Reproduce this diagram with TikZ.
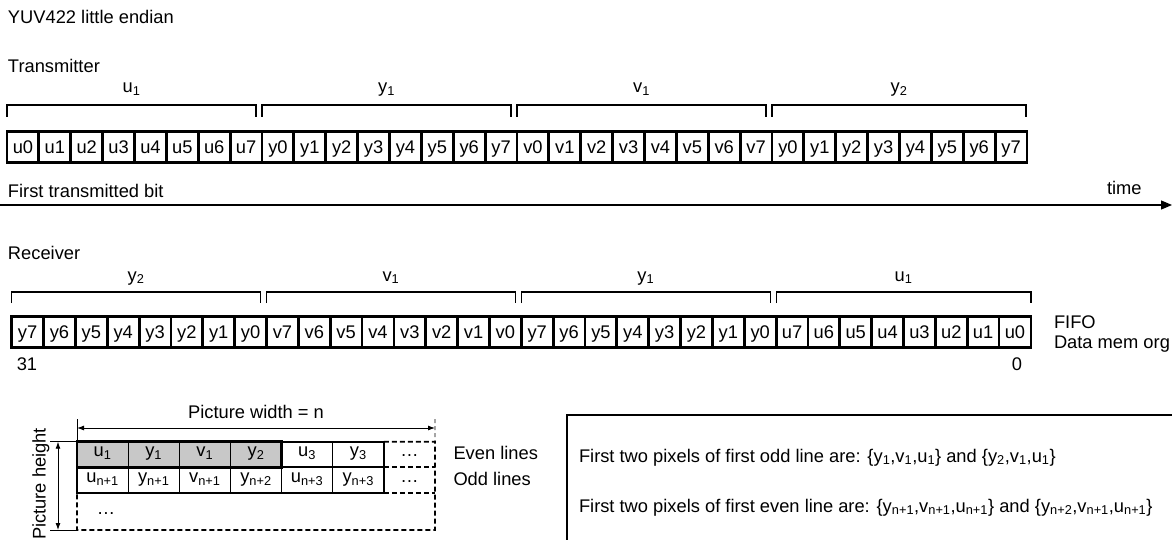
\documentclass[tikz,border=0pt]{standalone}
\usepackage{fontspec}
\setmainfont{Liberation Sans}
\usetikzlibrary{arrows.meta}
\definecolor{shade}{RGB}{200,200,200}
\begin{document}
\begin{tikzpicture}[x=1pt,y=-1pt,
  txt/.style={inner sep=0pt, outer sep=0pt, font=\fontsize{18.3}{21}\selectfont},
  bit/.style={draw, line width=2.8pt, minimum width=31.875pt, minimum height=31pt, inner sep=0pt, outer sep=0pt,
    anchor=north west, font=\fontsize{18.3}{21}\selectfont, text height=13pt, text depth=0pt},
  brk/.style={line width=1.2pt},
  tcell/.style={draw, line width=0.9pt, minimum width=51.14pt, minimum height=25.5pt, inner sep=0pt, outer sep=0pt,
    anchor=north west, font=\fontsize{18.3}{21}\selectfont, text height=10pt, text depth=5pt},
  dcell/.style={minimum width=51.14pt, minimum height=25.5pt, inner sep=0pt, outer sep=0pt,
    anchor=north west, font=\fontsize{18.3}{21}\selectfont, text height=10pt, text depth=5pt},
  dashline/.style={line width=1.6pt, dash pattern=on 5pt off 3pt},
  dim/.style={line width=0.9pt, {Latex[length=7pt,width=5pt]}-{Latex[length=7pt,width=5pt]}},
  thinline/.style={line width=0.9pt},
]
\useasboundingbox (0,0) rectangle (1172,540);

% titles
\node[txt, anchor=base west] (title) at (8,23.3) {YUV422 little endian};
\node[txt, anchor=base west] (trans) at (8,72.7) {Transmitter};

% transmitter brackets
\foreach \k/\ch/\s in {0/u/1,1/y/1,2/v/1,3/y/2}{
  \pgfmathsetmacro\xa{7+255*\k}
  \pgfmathsetmacro\xb{(\k<3) ? (7+255*(\k+1)-6) : 1026}
  \draw[brk] (\xa,117) -- (\xa,105) -- (\xb,105) -- (\xb,117);
  \node[txt, anchor=base] (tl\k) at ({(\xa+\xb)/2},93) {\ch\textsubscript{\s}};
}

% transmitter bits
\foreach \g/\ch in {0/u,1/y,2/v,3/y}{
  \foreach \b in {0,...,7}{
    \pgfmathtruncatemacro\k{8*\g+\b}
    \node[bit] (t\k) at ({7+\k*31.875},131.5) {\ch\b};
  }
}

% time axis
\node[txt, anchor=base west] (ftb) at (8,197.5) {First transmitted bit};
\node[txt, anchor=base west] (time) at (1107,195) {time};
\coordinate (ta) at (0,205);
\coordinate (tb) at (1172,205);
\draw[line width=1.2pt, -{Triangle[length=11pt,width=9pt]}] (ta) -- (tb);

% receiver
\node[txt, anchor=base west] (recv) at (8,259.5) {Receiver};
\foreach \k/\ch/\s in {0/y/2,1/v/1,2/y/1,3/u/1}{
  \pgfmathsetmacro\xa{11.7+254.83*\k}
  \pgfmathsetmacro\xb{(\k<3) ? (11.7+254.83*(\k+1)-6) : 1031}
  \draw[brk] (\xa,303) -- (\xa,292) -- (\xb,292) -- (\xb,303);
  \node[txt, anchor=base] (rl\k) at ({(\xa+\xb)/2},281) {\ch\textsubscript{\s}};
}
\foreach \g/\ch in {0/y,1/v,2/y,3/u}{
  \foreach \b in {0,...,7}{
    \pgfmathtruncatemacro\k{8*\g+\b}
    \pgfmathtruncatemacro\bb{7-\b}
    \node[bit] (r\k) at ({11.7+\k*31.85},316.5) {\ch\bb};
  }
}
\node[txt, anchor=base] (n31) at (27,370) {31};
\node[txt, anchor=base] (n0) at (1017,370) {0};
\node[txt, anchor=base west] (fifo) at (1054,328) {FIFO};
\node[txt, anchor=base west] (dmo) at (1054,348.5) {Data mem org};

% picture table
\node[txt, anchor=base] (pw) at (256,418) {Picture width = n};
\foreach \k/\t in {0/{u\textsubscript{1}},1/{y\textsubscript{1}},2/{v\textsubscript{1}},3/{y\textsubscript{2}}}
  \node[tcell, fill=shade] (a\k) at ({77+51.14*\k},441.7) {\t};
\node[tcell] (a4) at ({77+51.14*4},441.7) {u\textsubscript{3}};
\node[tcell] (a5) at ({77+51.14*5},441.7) {y\textsubscript{3}};
\node[dcell] (a6) at ({77+51.14*6},441.7) {…};
\foreach \k/\t in {0/{u\textsubscript{n+1}},1/{y\textsubscript{n+1}},2/{v\textsubscript{n+1}},3/{y\textsubscript{n+2}},4/{u\textsubscript{n+3}},5/{y\textsubscript{n+3}}}
  \node[tcell] (b\k) at ({77+51.14*\k},467.2) {\t};
\node[dcell] (b6) at ({77+51.14*6},467.2) {…};
\node[txt, anchor=base] (c0) at (106,514) {…};

\draw[line width=2pt] (a0.north west) rectangle (b5.south east);
\draw[line width=2pt] (a0.south west) -- (a5.south east);
\draw[line width=2.8pt] (a0.north west) rectangle (a3.south east);

\coordinate (br) at (435,530);
\coordinate (bl) at (77,530);
\draw[dashline] (a5.north east) -- (a6.north east) -- (br) -- (bl) -- (b0.south west);
\draw[dashline] (a5.south east) -- (a6.south east);
\draw[dashline] (b5.south east) -- (b6.south east);

% width dimension
\coordinate (wl) at (77,428);
\coordinate (wr) at (435,428);
\coordinate (wlt) at (77,419);
\coordinate (wrt) at (435,419);
\draw[dim] (wl) -- (wr);
\draw[thinline] (wlt) -- (a0.north west);
\draw[thinline, dash pattern=on 4pt off 3pt] (wrt) -- (a6.north east);

% height dimension
\coordinate (ht) at (58,441.7);
\coordinate (hb) at (58,530);
\coordinate (htl) at (50,441.7);
\coordinate (hbl) at (50,530);
\draw[dim] (ht) -- (hb);
\draw[thinline] (htl) -- (a0.north west);
\draw[thinline] (hbl) -- (bl);
\node[txt, rotate=90, anchor=base] (ph) at (45.5,484) {Picture height};

\node[txt, anchor=base west] (even) at (453.5,459) {Even lines};
\node[txt, anchor=base west] (odd) at (453.5,485) {Odd lines};

% note box
\draw[line width=1.3pt] (1172,415) -- (567,415) -- (567,540);
\node[txt, anchor=base west] (l1) at (579,462) {First two pixels of first odd line are: \{y\textsubscript{1},v\textsubscript{1},u\textsubscript{1}\} and \{y\textsubscript{2},v\textsubscript{1},u\textsubscript{1}\}};
\node[txt, anchor=base west] (l2) at (579,512) {First two pixels of first even line are: \{y\textsubscript{n+1},v\textsubscript{n+1},u\textsubscript{n+1}\} and \{y\textsubscript{n+2},v\textsubscript{n+1},u\textsubscript{n+1}\}};
\end{tikzpicture}
\end{document}
